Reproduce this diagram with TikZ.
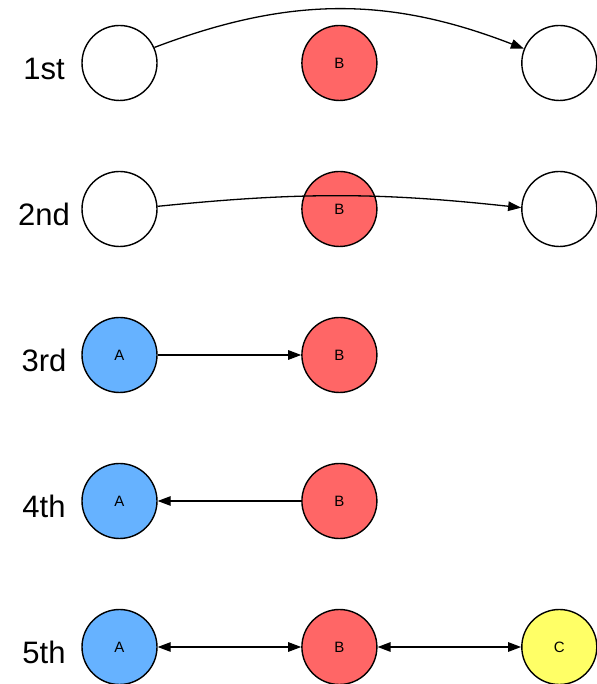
\documentclass[tikz,border=0pt]{standalone}
\usepackage{fontspec}
\setmainfont{Liberation Sans}
\usetikzlibrary{arrows.meta}
\usetikzlibrary{positioning}
\definecolor{nodeRed}{HTML}{FF6666}
\definecolor{nodeBlue}{HTML}{66B2FF}
\definecolor{nodeYellow}{HTML}{FFFF66}

\begin{document}
\begin{tikzpicture}[x=1pt,y=1pt,node distance=143.5pt,
    vtx/.style={circle,draw,line width=1.4pt,minimum size=75pt,inner sep=0pt,font=\fontsize{15}{15}\selectfont},
    edge/.style={line width=1.3pt,-{Triangle[length=13pt,width=9.5pt]}},
    both/.style={line width=1.3pt,{Triangle[length=13pt,width=9.5pt]}-{Triangle[length=13pt,width=9.5pt]}},
    rowlabel/.style={font=\fontsize{31}{31}\selectfont,anchor=base}]
    \useasboundingbox (0,0) rectangle (596,684);
    \foreach \r [count=\k from 0] in {1st,2nd,3rd,4th,5th}{
    \node[rowlabel] (lab\k) at (44,{604-146*\k}) {\r};
    }

    \node[vtx] (1_a) at (119.5,621) {};
    \node[vtx,fill=nodeRed,right=of 1_a] (1_b) {B};
    \node[vtx,right=of 1_b] (1_c) {};

    \node[vtx] (2_a) at (119.5,475) {};
    \node[vtx,fill=nodeRed,right=of 2_a] (2_b) {B};
    \node[vtx,right=of 2_b] (2_c) {};

    \node[vtx,fill=nodeBlue] (3_a) at (119.5,329) {A};
    \node[vtx,fill=nodeRed,right=of 3_a] (3_b) {B};

    \node[vtx,fill=nodeBlue] (4_a) at (119.5,183) {A};
    \node[vtx,fill=nodeRed,right=of 4_a] (4_b) {B};

    \node[vtx,fill=nodeBlue] (5_a) at (119.5,37) {A};
    \node[vtx,fill=nodeRed,right=of 5_a] (5_b) {B};
    \node[vtx,fill=nodeYellow,right=of 5_b] (5_c) {C};

    \draw[edge] (1_a.24) to[bend left=21] (1_c.158);
    \draw[edge] (2_a.4) to[bend left=6] (2_c.178);
    \draw[edge] (3_a) -- (3_b);
    \draw[edge] (4_b) -- (4_a);
    \draw[both] (5_a) -- (5_b);
    \draw[both] (5_b) -- (5_c);
\end{tikzpicture}
\end{document}
